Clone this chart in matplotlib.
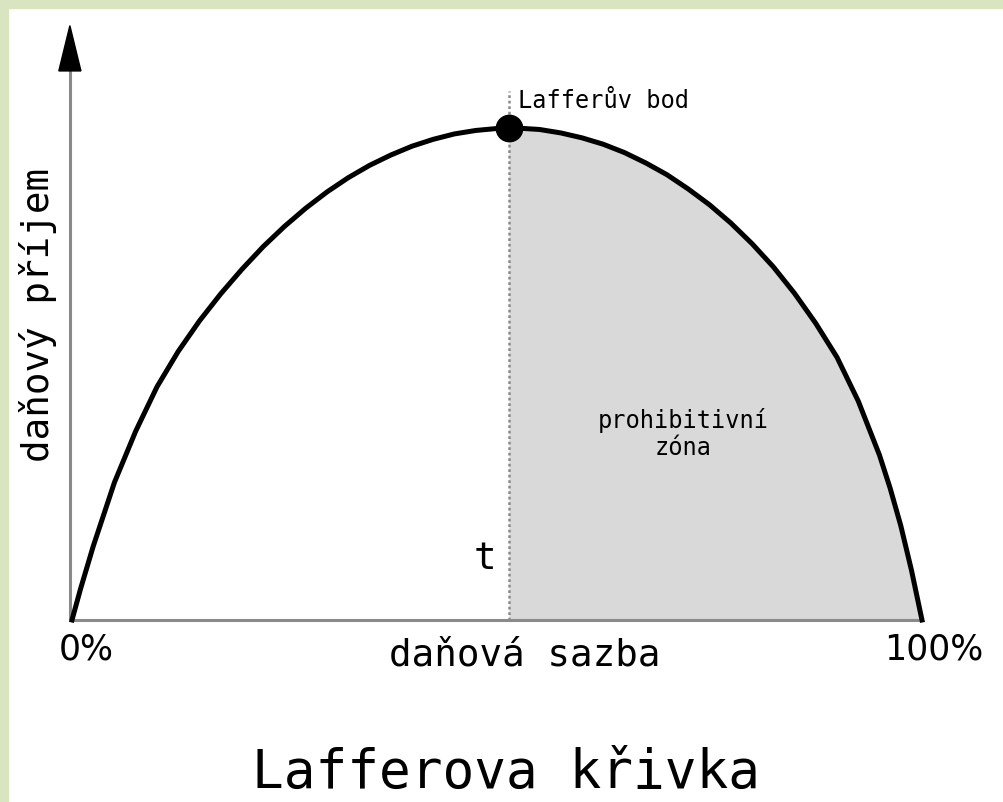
import matplotlib.pyplot as plt
from matplotlib.patches import Polygon, Rectangle

# tax rate (%) and revenue (% of maximum)
rate = [0, 1, 2.5, 5, 7.5, 10, 12.5, 15, 17.5, 20, 22.5, 25, 27.5, 30, 32.5, 35,
        37.5, 40, 42.5, 45, 47.5, 50, 51.4,
        52.5, 55, 57.5, 60, 62.5, 65, 67.5, 70, 72.5, 75, 77.5, 80, 82.5, 85,
        87.5, 90, 92.5, 95, 96.25, 97.5, 98.75, 100]
revenue = [0, 6.3, 15, 28, 38.4, 47.4, 54.6, 60.8, 66.3, 71.3, 75.9, 80.0, 83.7, 87.0,
           89.9, 92.4, 94.5, 96.3, 97.7, 98.8, 99.5, 99.9, 100,
           99.97, 99.7, 99.0, 98.0, 96.7, 95.0, 92.9, 90.5, 87.6, 84.4, 80.7, 76.5,
           71.8, 66.4, 60.3, 53.4, 44.5, 33.5, 26.8, 19.2, 10.2, 0]
peak_rate = 51.4
peak_revenue = 100

title = 'Lafferova křivka'
x_label = 'daňová sazba'
y_label = 'daňový příjem'
peak_label = 'Lafferův bod'
zone_label = 'prohibitivní\nzóna'
tick_left, tick_right = '0%', '100%'

mono = 'DejaVu Sans Mono'
axis_grey = '#8a8a8a'

fig = plt.figure(figsize=(10.04, 8.02), dpi=100)
fig.patch.set_facecolor('white')
# light green frame on top and left edges
fig.patches.append(Rectangle((0, 1 - 8 / 802), 1, 8 / 802, transform=fig.transFigure,
                             color='#d9e4c0', zorder=0))
fig.patches.append(Rectangle((0, 0), 8 / 1004, 1, transform=fig.transFigure,
                             color='#d9e4c0', zorder=0))

ax = fig.add_axes([72 / 1004, (802 - 620) / 802, 850 / 1004, 492 / 802])
ax.set_xlim(0, 100)
ax.set_ylim(0, 100)
ax.axis('off')

# prohibitive zone shading
right_x = [r for r in rate if r >= peak_rate]
right_y = [v for r, v in zip(rate, revenue) if r >= peak_rate]
ax.fill_between(right_x, right_y, 0, color='#d9d9d9', lw=0, zorder=1)

# axes
ax.plot([-0.25, 100], [0, 0], color=axis_grey, lw=2.2, clip_on=False, zorder=2,
        solid_capstyle='butt')
ax.plot([-0.25, -0.25], [0, 112], color=axis_grey, lw=2.2, clip_on=False, zorder=2,
        solid_capstyle='butt')
ax.add_patch(Polygon([[-1.55, 111.6], [1.05, 111.6], [-0.25, 120.8]], closed=True,
                     color='black', clip_on=False, zorder=3))

# dotted line at the peak
ax.plot([peak_rate, peak_rate], [0, 107.5], color=axis_grey, lw=1.8,
        linestyle=(0, (1.1, 1.1)), clip_on=False, zorder=2)

ax.plot(rate, revenue, color='black', lw=3.6, clip_on=False, zorder=4,
        solid_joinstyle='round')
ax.plot([peak_rate], [peak_revenue], 'o', color='black', ms=19, clip_on=False, zorder=5)

ax.text(52.5, 104.1, peak_label, family=mono, fontsize=17, va='baseline', ha='left')
ax.text(71.9, 37.8, zone_label, family=mono, fontsize=17, va='center', ha='center',
        multialignment='center', linespacing=1.2)
ax.text(49.9, 10.4, 't', family=mono, fontsize=27, va='baseline', ha='right')
ax.text(53.3, -9.3, x_label, family=mono, fontsize=27, va='baseline', ha='center')
ax.text(-4.0, 62, y_label, family=mono, fontsize=27, va='center', ha='center',
        rotation=90)
ax.text(-1.6, -8.1, tick_left, family='DejaVu Sans', fontsize=25, va='baseline', ha='left')
ax.text(95.6, -8.1, tick_right, family='DejaVu Sans', fontsize=25, va='baseline', ha='left')
ax.text(51.1, -34.1, title, family=mono, fontsize=38, va='baseline', ha='center')

fig.savefig('out.png', dpi=100)
